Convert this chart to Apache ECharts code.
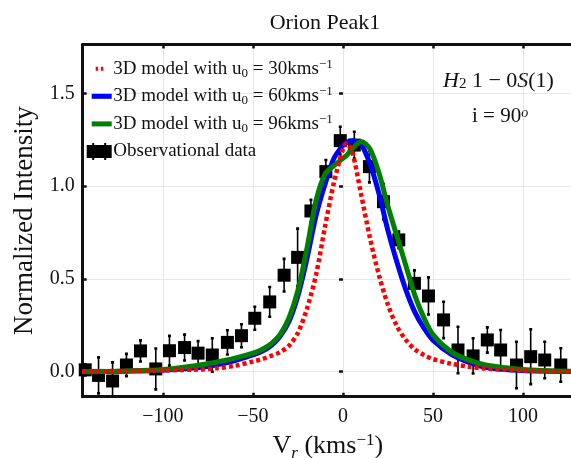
<!DOCTYPE html>
<html>
<head>
<meta charset="utf-8">
<script src="https://cdn.jsdelivr.net/npm/echarts@6/dist/echarts.min.js"></script>
<style>
  html, body { margin: 0; padding: 0; background: #fff; }
  #chart { width: 571px; height: 458px; }
</style>
</head>
<body>
<div id="chart"></div>
<script>
var SERIF = '"Liberation Serif", "DejaVu Serif", serif';
var INK = '#111';

// model profiles, sampled on one velocity grid (km/s)
var modelV = [-145, -120, -100, -80, -70, -60, -50, -45, -40, -35, -30, -25, -20, -15, -10, -5, 0, 2, 5,
              10, 15, 20, 25, 30, 35, 40, 45, 50, 60, 70, 80, 100, 128];
var model30 = [0.002, 0.004, 0.007, 0.012, 0.019, 0.032, 0.055, 0.068, 0.085, 0.105, 0.14, 0.21, 0.34, 0.52, 0.78, 1.02, 1.2, 1.23, 1.19,
               0.96, 0.72, 0.52, 0.36, 0.245, 0.17, 0.12, 0.09, 0.068, 0.043, 0.027, 0.016, 0.006, 0.002];
var model60 = [0.0, 0.003, 0.008, 0.022, 0.037, 0.06, 0.09, 0.11, 0.14, 0.19, 0.27, 0.41, 0.61, 0.84, 1.01, 1.15, 1.22, 1.235, 1.245,
               1.225, 1.12, 0.96, 0.76, 0.59, 0.44, 0.32, 0.235, 0.17, 0.095, 0.05, 0.022, 0.006, 0.001];
var model96 = [0.0, 0.004, 0.012, 0.035, 0.052, 0.073, 0.1, 0.12, 0.15, 0.2, 0.29, 0.44, 0.665, 0.92, 1.065, 1.11, 1.15, 1.165, 1.2,
               1.24, 1.2, 1.07, 0.89, 0.73, 0.57, 0.41, 0.29, 0.2, 0.108, 0.062, 0.035, 0.012, 0.002];

// observed points with their error bars
var obsV = [-143.2, -135.8, -128, -120.3, -112.5, -104, -96.4, -88, -80.5, -72.6, -64.2, -56.4, -49, -40.7, -32.7, -25.2, -17.8,
            -9.5, -1.5, 6.3, 14.7, 22.5, 31, 39.7, 47.5, 55.9, 63.9, 72.3, 80.2, 87.6, 96.4, 104.3, 112.1, 121, 128.7];
var obsI = [0.01, -0.02, -0.05, 0.036, 0.112, 0.015, 0.113, 0.13, 0.1, 0.09, 0.158, 0.194, 0.288, 0.376, 0.52, 0.616, 0.866,
            1.078, 1.245, 1.221, 1.105, 0.916, 0.71, 0.476, 0.408, 0.279, 0.117, 0.085, 0.171, 0.117, 0.036, 0.081, 0.063, 0.036, 0.03];
var obsErr = [0.03, 0.097, 0.1, 0.06, 0.057, 0.11, 0.08, 0.07, 0.065, 0.09, 0.065, 0.062, 0.062, 0.08, 0.088, 0.155, 0.06,
              0.063, 0.075, 0.072, 0.085, 0.095, 0.045, 0.07, 0.1, 0.098, 0.125, 0.095, 0.068, 0.108, 0.125, 0.148, 0.098, 0.09, 0.05];

var xTickLabels = ['\u2212100', '\u221250', '0', '50', '100'];
var yTickLabels = ['0.0', '0.5', '1.0', '1.5'];

var names = {
    m30: '3D model with u0 = 30kms-1',
    m60: '3D model with u0 = 60kms-1',
    m96: '3D model with u0 = 96kms-1',
    obs: 'Observational data'
};

function pairs(xs, ys) {
    return xs.map(function(x, i) { return [x, ys[i]]; });
}

function renderErrorBar(params, api) {
    var x = api.value(0);
    var hi = api.coord([x, api.value(2)]);
    var lo = api.coord([x, api.value(1)]);
    var bar = { stroke: '#000', lineWidth: 1.6 };
    var cap = { stroke: '#000', lineWidth: 2.6 };
    return {
        type: 'group',
        children: [
            { type: 'line', shape: { x1: hi[0], y1: hi[1], x2: lo[0], y2: lo[1] }, style: bar },
            { type: 'line', shape: { x1: hi[0] - 1.5, y1: hi[1], x2: hi[0] + 1.5, y2: hi[1] }, style: cap },
            { type: 'line', shape: { x1: lo[0] - 1.5, y1: lo[1], x2: lo[0] + 1.5, y2: lo[1] }, style: cap }
        ]
    };
}

function tickText(list, v, step) {
    var i = Math.round(v / step);
    var first = list === xTickLabels ? -2 : 0;
    return list[i - first] || '';
}

var axisLine = { show: true, onZero: false, lineStyle: { color: INK, width: 3 } };
var axisTick = { show: true, inside: true, length: 4, lineStyle: { color: INK, width: 2.5 } };
var grid = { type: 'dotted', color: '#cfcfcf', width: 1 };

var chart = echarts.init(document.getElementById('chart'), null, { renderer: 'canvas' });

chart.setOption({
    animation: false,
    backgroundColor: '#fff',
    title: {
        text: 'Orion Peak1', left: 320, top: 7, textAlign: 'center',
        textStyle: { fontFamily: SERIF, fontSize: 22, fontWeight: 'normal', color: INK }
    },
    grid: { left: 82.7, width: 490.3, top: 44.5, bottom: 61.3, containLabel: false, outerBoundsMode: 'none' },
    xAxis: [{
        type: 'value', min: -144.6, max: 127.8, splitNumber: 5,
        axisLine: axisLine, axisTick: axisTick,
        splitLine: { show: true, lineStyle: grid },
        axisLabel: {
            margin: 10, fontFamily: SERIF, fontSize: 20, color: INK,
            showMinLabel: false, showMaxLabel: false,
            formatter: function(v) { return tickText(xTickLabels, v, 50); }
        },
        name: 'V{sub|r} (kms{sup|\u22121})', nameLocation: 'middle', nameGap: 25,
        nameTextStyle: {
            fontFamily: SERIF, fontSize: 26, color: INK, lineHeight: 30,
            rich: {
                sub: { fontFamily: SERIF, fontSize: 17, fontStyle: 'italic', color: INK, verticalAlign: 'bottom', lineHeight: 17 },
                sup: { fontFamily: SERIF, fontSize: 17, color: INK, verticalAlign: 'top', lineHeight: 16 }
            }
        }
    }, {
        type: 'value', position: 'top', min: -144.6, max: 127.8, splitNumber: 5,
        axisLine: axisLine, axisTick: axisTick,
        axisLabel: { show: false }, splitLine: { show: false }
    }],
    yAxis: [{
        type: 'value', min: -0.1347, max: 1.763, splitNumber: 4,
        axisLine: axisLine, axisTick: axisTick,
        splitLine: { show: true, lineStyle: grid },
        axisLabel: {
            margin: 8, fontFamily: SERIF, fontSize: 20, color: INK,
            showMinLabel: false, showMaxLabel: false,
            formatter: function(v) { return tickText(yTickLabels, v, 0.5); }
        },
        name: 'Normalized Intensity', nameLocation: 'middle', nameGap: 42,
        nameTextStyle: { fontFamily: SERIF, fontSize: 27, color: INK }
    }, {
        // right spine sits just past the canvas edge: only its inward ticks show
        type: 'value', position: 'right', min: -0.1347, max: 1.763, splitNumber: 4,
        axisLine: { show: false }, axisTick: axisTick,
        axisLabel: { show: false }, splitLine: { show: false }
    }],
    legend: {
        orient: 'vertical', left: 86.7, top: 57.7, padding: 0, itemGap: 5.6,
        itemWidth: 25, itemHeight: 17, selectedMode: false, symbolKeepAspect: true,
        itemStyle: { borderWidth: 0 },
        textStyle: {
            fontFamily: SERIF, fontSize: 19, color: INK, lineHeight: 22, padding: [0, 0, 0, -3.4],
            rich: {
                sub: { fontFamily: SERIF, fontSize: 13, color: INK, verticalAlign: 'bottom', lineHeight: 12 },
                sup: { fontFamily: SERIF, fontSize: 13, color: INK, verticalAlign: 'top', lineHeight: 12 }
            }
        },
        formatter: function(name) {
            if (name === names.obs) return name;
            var speed = name.match(/= (\d+)kms/)[1];
            return '3D model with u{sub|0} = ' + speed + 'kms{sup|\u22121}';
        },
        data: [
            { name: names.m30, itemStyle: { color: '#ff0000', borderWidth: 0 },
              icon: 'path://M0,0M25,17M9,6.5h2.4v4h-2.4zM14.2,6.5h2.4v4h-2.4z' },
            { name: names.m60, itemStyle: { color: '#0000ff', borderWidth: 0 },
              icon: 'path://M0,0M25,17M5,6h20v5h-20z' },
            { name: names.m96, itemStyle: { color: '#008000', borderWidth: 0 },
              icon: 'path://M0,0M25,17M5,6h20v5h-20z' },
            { name: names.obs, itemStyle: { color: '#000', borderWidth: 0 },
              icon: 'path://M0,2h25v13h-25zM5.5,0h2v2h-2zM17.5,0h2v2h-2zM5.5,15h2v2h-2zM17.5,15h2v2h-2z' }
        ]
    },
    graphic: [{
        type: 'text', left: 443, top: 70, silent: true,
        style: {
            text: '{it|H}{sub|2} 1 \u2212 0{it|S}(1)',
            fontFamily: SERIF, fontSize: 22, fill: INK,
            rich: {
                it: { fontFamily: SERIF, fontSize: 22, fontStyle: 'italic', fill: INK },
                sub: { fontFamily: SERIF, fontSize: 15, fill: INK, verticalAlign: 'bottom', lineHeight: 14 }
            }
        }
    }, {
        type: 'text', left: 472, top: 106, silent: true,
        style: {
            text: 'i = 90{sup|o}',
            fontFamily: SERIF, fontSize: 21, fill: INK,
            rich: {
                sup: { fontFamily: SERIF, fontSize: 14, fontStyle: 'italic', fill: INK, verticalAlign: 'top', lineHeight: 10 }
            }
        }
    }],
    series: [{
        type: 'custom', name: 'errors', clip: true, z: 2,
        renderItem: renderErrorBar,
        encode: { x: 0, y: [1, 2] },
        data: obsV.map(function(v, i) { return [v, obsI[i] - obsErr[i], obsI[i] + obsErr[i]]; })
    }, {
        type: 'scatter', name: names.obs, symbol: 'rect', symbolSize: 13, z: 2,
        itemStyle: { color: '#000', opacity: 1 },
        data: pairs(obsV, obsI)
    }, {
        type: 'line', name: names.m60, showSymbol: false, smooth: 0.3, z: 3,
        itemStyle: { color: '#0000ff' },
        lineStyle: { color: '#0000ff', width: 5 },
        data: pairs(modelV, model60)
    }, {
        type: 'line', name: names.m96, showSymbol: false, smooth: 0.3, z: 4,
        itemStyle: { color: '#008000' },
        lineStyle: { color: '#008000', width: 5 },
        data: pairs(modelV, model96)
    }, {
        type: 'line', name: names.m30, showSymbol: false, smooth: 0.3, z: 5,
        itemStyle: { color: '#ff0000' },
        lineStyle: { color: '#ff0000', width: 4.5, type: [4, 3], cap: 'butt' },
        data: pairs(modelV, model30)
    }]
});

window.addEventListener('resize', function() { chart.resize(); });
</script>
</body>
</html>
